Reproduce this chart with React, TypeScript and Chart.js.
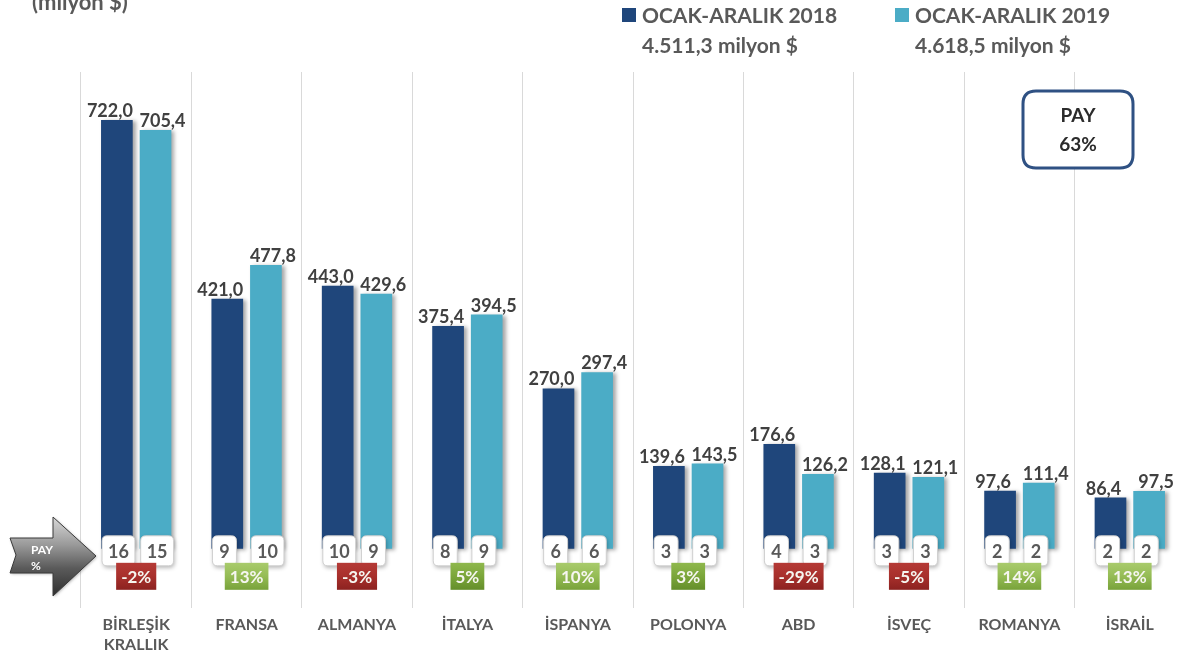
import React, { useEffect, useRef } from 'react';
import { Chart, registerables } from 'chart.js';

Chart.register(...registerables);

const categories: (string | string[])[] = [
  ['BİRLEŞİK', 'KRALLIK'], 'FRANSA', 'ALMANYA', 'İTALYA', 'İSPANYA',
  'POLONYA', 'ABD', 'İSVEÇ', 'ROMANYA', 'İSRAİL',
];
const exports2018 = [722.0, 421.0, 443.0, 375.4, 270.0, 139.6, 176.6, 128.1, 97.6, 86.4];
const exports2019 = [705.4, 477.8, 429.6, 394.5, 297.4, 143.5, 126.2, 121.1, 111.4, 97.5];
const share2018 = [16, 9, 10, 8, 6, 3, 4, 3, 2, 2];
const share2019 = [15, 10, 9, 9, 6, 3, 3, 3, 2, 2];
const changePct = [-2, 13, -3, 5, 10, 3, -29, -5, 14, 13];
const seriesLabels = ['OCAK-ARALIK 2018', 'OCAK-ARALIK 2019'];
const seriesTotals = ['4.511,3 milyon $', '4.618,5 milyon $'];
const unitLabel = '(milyon $)';
const totalShareLines = ['PAY', '63%'];
const arrowLines = ['PAY', '%'];

const DARK = '#1f467b';
const LIGHT = '#4bacc6';
const FONT = 'Lato, "Open Sans", "DejaVu Sans", sans-serif';
const TEXT = '#595959';
const Y_MIN = -99;
const Y_MAX = 803;

const fmt = (v: number) => v.toFixed(1).replace('.', ',');

function rr(ctx: CanvasRenderingContext2D, x: number, y: number, w: number, h: number, r: number) {
  ctx.beginPath();
  ctx.moveTo(x + r, y);
  ctx.lineTo(x + w - r, y);
  ctx.quadraticCurveTo(x + w, y, x + w, y + r);
  ctx.lineTo(x + w, y + h - r);
  ctx.quadraticCurveTo(x + w, y + h, x + w - r, y + h);
  ctx.lineTo(x + r, y + h);
  ctx.quadraticCurveTo(x, y + h, x, y + h - r);
  ctx.lineTo(x, y + r);
  ctx.quadraticCurveTo(x, y, x + r, y);
  ctx.closePath();
}

const overlay = {
  id: 'overlay',
  beforeDatasetsDraw(chart: any) {
    const ctx = chart.ctx as CanvasRenderingContext2D;
    ctx.save();
    ctx.shadowColor = 'rgba(0,0,0,0.35)';
    ctx.shadowBlur = 4;
    ctx.shadowOffsetX = 3;
    ctx.shadowOffsetY = 1;
  },
  afterDatasetsDraw(chart: any) {
    chart.ctx.restore();
  },
  afterDraw(chart: any) {
    const ctx = chart.ctx as CanvasRenderingContext2D;
    const xScale = chart.scales.x;
    const yScale = chart.scales.y;
    const zeroY = yScale.getPixelForValue(0);
    const shares = [share2018, share2019];
    const labelShift = [-7, 7];

    // value labels
    ctx.save();
    ctx.font = `bold 18px ${FONT}`;
    ctx.fillStyle = '#404040';
    ctx.textAlign = 'center';
    ctx.textBaseline = 'alphabetic';
    [0, 1].forEach((di) => {
      const meta = chart.getDatasetMeta(di);
      const vals = chart.data.datasets[di].data as number[];
      meta.data.forEach((el: any, i: number) => {
        ctx.fillText(fmt(vals[i]), el.x + labelShift[di], el.y - 3);
      });
    });
    ctx.restore();

    // share boxes
    [0, 1].forEach((di) => {
      const meta = chart.getDatasetMeta(di);
      meta.data.forEach((el: any, i: number) => {
        const txt = String(shares[di][i]);
        ctx.save();
        ctx.font = `bold 18px ${FONT}`;
        const tw = ctx.measureText(txt).width;
        const w = Math.max(tw + 12, 24);
        const left = el.x - el.width / 2 + 1;
        const top = zeroY - 13;
        const h = 30;
        ctx.shadowColor = 'rgba(0,0,0,0.3)';
        ctx.shadowBlur = 4;
        ctx.shadowOffsetX = 1;
        ctx.shadowOffsetY = 2;
        rr(ctx, left, top, w, h, 5);
        ctx.fillStyle = '#ffffff';
        ctx.fill();
        ctx.shadowColor = 'transparent';
        ctx.strokeStyle = '#d0d0d0';
        ctx.lineWidth = 1;
        ctx.stroke();
        ctx.fillStyle = TEXT;
        ctx.textAlign = 'center';
        ctx.textBaseline = 'middle';
        ctx.fillText(txt, left + w / 2, top + h / 2 + 1);
        ctx.restore();
      });
    });

    // change boxes
    changePct.forEach((c, i) => {
      const cx = xScale.getPixelForValue(i);
      const txt = `${c}%`;
      ctx.save();
      ctx.font = `bold 17px ${FONT}`;
      const tw = ctx.measureText(txt).width;
      const w = tw + 10;
      const top = zeroY + 14;
      const h = 27;
      const g = ctx.createLinearGradient(0, top, 0, top + h);
      if (c < 0) {
        g.addColorStop(0, '#b53a36');
        g.addColorStop(0.5, '#a8302c');
        g.addColorStop(1, '#8c2220');
      } else if (c >= 10) {
        g.addColorStop(0, '#a9cb6c');
        g.addColorStop(0.5, '#95bc55');
        g.addColorStop(1, '#78a23a');
      } else {
        g.addColorStop(0, '#8fb84d');
        g.addColorStop(0.5, '#7ba63a');
        g.addColorStop(1, '#648e2a');
      }
      ctx.fillStyle = g;
      ctx.fillRect(cx - w / 2, top, w, h);
      ctx.fillStyle = '#f6f6f0';
      ctx.textAlign = 'center';
      ctx.textBaseline = 'middle';
      ctx.fillText(txt, cx, top + h / 2 + 1);
      ctx.restore();
    });

    // unit title (cropped at top)
    ctx.save();
    ctx.font = `bold 22px ${FONT}`;
    ctx.fillStyle = TEXT;
    ctx.textAlign = 'left';
    ctx.textBaseline = 'alphabetic';
    ctx.fillText(unitLabel, 32, 10);
    ctx.restore();

    // legend
    const legendX = [622, 895];
    const colors = [DARK, LIGHT];
    [0, 1].forEach((di) => {
      ctx.save();
      ctx.fillStyle = colors[di];
      ctx.fillRect(legendX[di], 8, 14, 14);
      ctx.font = `bold 21px ${FONT}`;
      ctx.fillStyle = TEXT;
      ctx.textAlign = 'left';
      ctx.textBaseline = 'middle';
      ctx.fillText(chart.data.datasets[di].label, legendX[di] + 20, 16);
      ctx.fillText(seriesTotals[di], legendX[di] + 20, 46);
      ctx.restore();
    });

    // PAY total box
    ctx.save();
    rr(ctx, 1023, 91, 110, 77, 13);
    ctx.fillStyle = '#ffffff';
    ctx.fill();
    ctx.strokeStyle = '#2f5183';
    ctx.lineWidth = 3;
    ctx.stroke();
    ctx.font = `bold 19px ${FONT}`;
    ctx.fillStyle = '#2b2b2b';
    ctx.textAlign = 'center';
    ctx.textBaseline = 'middle';
    ctx.fillText(totalShareLines[0], 1078, 116);
    ctx.fillText(totalShareLines[1], 1078, 145);
    ctx.restore();

    // left arrow
    ctx.save();
    ctx.beginPath();
    ctx.moveTo(10, 538);
    ctx.lineTo(53, 538);
    ctx.lineTo(53, 517);
    ctx.lineTo(96, 556);
    ctx.lineTo(53, 596);
    ctx.lineTo(53, 573);
    ctx.lineTo(10, 573);
    ctx.lineTo(16, 555);
    ctx.closePath();
    const ag = ctx.createLinearGradient(0, 517, 0, 596);
    ag.addColorStop(0, '#d8d8d8');
    ag.addColorStop(0.35, '#9a9a9a');
    ag.addColorStop(0.65, '#5a5a5a');
    ag.addColorStop(1, '#2e2e2e');
    ctx.fillStyle = ag;
    ctx.shadowColor = 'rgba(0,0,0,0.3)';
    ctx.shadowBlur = 3;
    ctx.shadowOffsetX = 1;
    ctx.shadowOffsetY = 1;
    ctx.fill();
    ctx.shadowColor = 'transparent';
    ctx.strokeStyle = '#3a3a3a';
    ctx.lineWidth = 1;
    ctx.stroke();
    ctx.font = `bold 12px ${FONT}`;
    ctx.fillStyle = '#ffffff';
    ctx.textAlign = 'left';
    ctx.textBaseline = 'middle';
    ctx.fillText(arrowLines[0], 31, 550);
    ctx.fillText(arrowLines[1], 31, 566);
    ctx.restore();
  },
};

export default function App() {
  const ref = useRef<HTMLCanvasElement | null>(null);

  useEffect(() => {
    if (!ref.current) return;
    const chart = new Chart(ref.current, {
      type: 'bar',
      data: {
        labels: categories,
        datasets: [
          { label: seriesLabels[0], data: exports2018, backgroundColor: DARK, categoryPercentage: 0.7, barPercentage: 0.82 },
          { label: seriesLabels[1], data: exports2019, backgroundColor: LIGHT, categoryPercentage: 0.7, barPercentage: 0.82 },
        ],
      },
      options: {
        responsive: false,
        animation: false,
        devicePixelRatio: 1,
        layout: { padding: { left: 81, right: 0, top: 72, bottom: 0 } },
        plugins: { legend: { display: false }, tooltip: { enabled: false } },
        scales: {
          x: {
            grid: { offset: true, color: '#d9d9d9', drawTicks: false },
            border: { display: false },
            ticks: {
              font: { family: FONT, size: 16, weight: 'bold' },
              color: TEXT,
              padding: 8,
              maxRotation: 0,
              autoSkip: false,
            },
          },
          y: {
            min: Y_MIN,
            max: Y_MAX,
            ticks: { display: false, stepSize: 100 },
            grid: {
              drawTicks: false,
              color: (c: any) => (c.tick && c.tick.value === 0 ? '#d0d0d0' : 'rgba(0,0,0,0)'),
            },
            border: { display: false },
          },
        },
      },
      plugins: [overlay],
    } as any);
    return () => chart.destroy();
  }, []);

  return (
    <div style={{ position: 'absolute', left: 0, top: 0, width: 1185, height: 662, background: '#fff' }}>
      <canvas ref={ref} width={1185} height={662} style={{ display: 'block' }} />
    </div>
  );
}
